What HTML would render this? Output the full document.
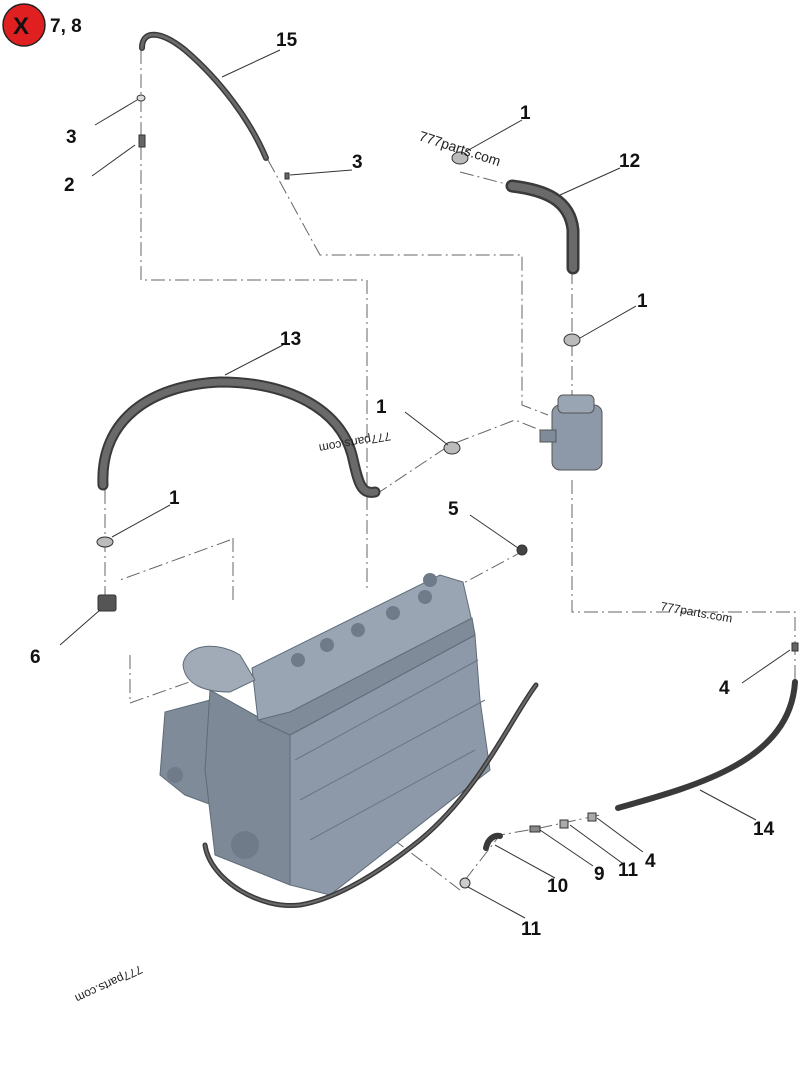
<!DOCTYPE html>
<html><head><style>
html,body{margin:0;padding:0;background:#fff;}
svg{display:block;}
text{font-family:"Liberation Sans",sans-serif;font-weight:bold;font-size:19px;fill:#111;}
.w{font-weight:normal;font-size:12px;fill:#222;}
.l{stroke:#333;stroke-width:1;fill:none;}
.d{stroke:#666;stroke-width:1;fill:none;stroke-dasharray:14 4 2 4;}
.h{fill:none;stroke:#3a3a3a;stroke-linecap:round;}
.hi{fill:none;stroke:#6a6a6a;stroke-linecap:round;}
</style></head><body>
<svg width="800" height="1067" viewBox="0 0 800 1067">
<circle cx="24" cy="25" r="21" fill="#e02020" stroke="#222" stroke-width="1.5"/>
<text x="13" y="34" style="font-size:24px">X</text>
<text x="50" y="32">7, 8</text>

<path class="d" d="M141 50 V280 H367 V590"/>
<path class="d" d="M268 160 L320 255 H522 V405 L548 415"/>
<path class="d" d="M572 270 V400"/>
<path class="d" d="M572 480 V612 H795 V680"/>
<path class="d" d="M375 495 L450 445 L515 420 L545 432"/>
<path class="d" d="M105 490 V600"/>
<path class="d" d="M230 540 L120 580 M233 538 V600 M130 655 V703 L195 680"/>
<path class="d" d="M525 550 L460 585"/>
<path class="d" d="M460 172 L510 185"/>
<path class="d" d="M335 795 L460 890 M465 880 L500 835 L540 828 L600 815"/>

<!-- engine -->
<g stroke="#5f6b78" stroke-width="1">
<polygon points="160,775 165,712 210,700 212,805 185,795" fill="#7f8b99"/>
<polygon points="210,690 290,735 475,635 480,700 490,770 330,895 290,885" fill="#8d99a8"/>
<polygon points="210,690 290,735 290,885 215,855 205,770" fill="#7d8997"/>
<polygon points="252,668 440,575 463,582 475,635 290,735 258,720" fill="#9aa5b3"/>
<polygon points="258,720 290,735 475,635 472,618 290,712" fill="#7f8b99"/>
<path d="M183 665 C185 645 215 640 240 655 L255 680 L230 692 C205 692 185 685 183 665Z" fill="#a1abb8"/>
</g>
<g fill="#6f7b89">
<circle cx="298" cy="660" r="7"/><circle cx="327" cy="645" r="7"/><circle cx="358" cy="630" r="7"/><circle cx="393" cy="613" r="7"/><circle cx="425" cy="597" r="7"/><circle cx="430" cy="580" r="7"/>
<circle cx="245" cy="845" r="14"/><circle cx="175" cy="775" r="8"/>
</g>
<g stroke="#6a7684" stroke-width="1" fill="none">
<path d="M295 760 L478 660 M300 800 L485 700 M310 840 L475 750"/>
</g>

<path class="h" stroke-width="11" d="M103 485 C100 420 150 385 220 382 C290 382 340 410 352 455 C358 480 360 495 375 492"/>
<path class="hi" stroke-width="7" d="M103 485 C100 420 150 385 220 382 C290 382 340 410 352 455 C358 480 360 495 375 492"/>
<path class="h" stroke-width="6" d="M142 48 C142 30 160 30 185 50 C220 80 250 120 266 158"/>
<path class="hi" stroke-width="3" d="M142 48 C142 30 160 30 185 50 C220 80 250 120 266 158"/>
<path class="h" stroke-width="13" d="M512 186 C545 190 570 200 573 230 V268"/>
<path class="hi" stroke-width="8" d="M512 186 C545 190 570 200 573 230 V268"/>
<path class="h" stroke-width="6" d="M795 682 C790 760 700 785 618 808"/>
<path class="h" stroke-width="6" d="M486 848 C488 838 495 835 500 836"/>
<path class="h" stroke-width="5" d="M536 685 C510 720 480 790 420 840 C370 880 330 900 300 905 C260 910 210 880 205 845"/>
<path class="hi" stroke-width="2" d="M536 685 C510 720 480 790 420 840 C370 880 330 900 300 905 C260 910 210 880 205 845"/>

<g stroke="#555" fill="#8d99a8">
<rect x="552" y="405" width="50" height="65" rx="8"/>
<rect x="558" y="395" width="36" height="18" rx="5" fill="#9aa5b3"/>
<rect x="540" y="430" width="16" height="12" fill="#7f8b99"/>
</g>
<g fill="#777" stroke="#333">
<rect x="98" y="595" width="18" height="16" rx="2" fill="#555"/>
<ellipse cx="105" cy="542" rx="8" ry="5" fill="#bbb"/>
<ellipse cx="452" cy="448" rx="8" ry="6" fill="#bbb"/>
<ellipse cx="572" cy="340" rx="8" ry="6" fill="#bbb"/>
<ellipse cx="460" cy="158" rx="8" ry="6" fill="#bbb"/>
<circle cx="522" cy="550" r="5" fill="#444"/>
<rect x="139" y="135" width="6" height="12" fill="#666"/>
<ellipse cx="141" cy="98" rx="4" ry="3" fill="#ddd"/>
<rect x="285" y="173" width="4" height="6" fill="#666"/>
<rect x="792" y="643" width="6" height="8" fill="#666"/>
<rect x="530" y="826" width="10" height="6" fill="#888"/>
<rect x="560" y="820" width="8" height="8" fill="#aaa"/>
<rect x="588" y="813" width="8" height="8" fill="#aaa"/>
<ellipse cx="465" cy="883" rx="5" ry="5" fill="#ccc"/>
</g>

<g class="l">
<path d="M222 77 L280 50"/>
<path d="M95 125 L137 100"/>
<path d="M92 176 L135 145"/>
<path d="M290 175 L352 170"/>
<path d="M465 152 L522 120"/>
<path d="M560 195 L620 168"/>
<path d="M580 338 L636 306"/>
<path d="M225 375 L283 345"/>
<path d="M405 412 L448 445"/>
<path d="M112 537 L170 505"/>
<path d="M470 515 L518 548"/>
<path d="M60 645 L100 610"/>
<path d="M742 683 L790 650"/>
<path d="M700 790 L756 820"/>
<path d="M597 818 L643 852"/>
<path d="M570 825 L622 863"/>
<path d="M540 830 L593 866"/>
<path d="M495 845 L555 878"/>
<path d="M468 887 L525 918"/>
</g>

<text x="276" y="46">15</text>
<text x="66" y="143">3</text>
<text x="64" y="191">2</text>
<text x="352" y="168">3</text>
<text x="520" y="119">1</text>
<text x="619" y="167">12</text>
<text x="637" y="307">1</text>
<text x="280" y="345">13</text>
<text x="376" y="413">1</text>
<text x="169" y="504">1</text>
<text x="448" y="515">5</text>
<text x="30" y="663">6</text>
<text x="719" y="694">4</text>
<text x="753" y="835">14</text>
<text x="645" y="867">4</text>
<text x="618" y="876">11</text>
<text x="594" y="880">9</text>
<text x="547" y="892">10</text>
<text x="521" y="935">11</text>

<text class="w" x="418" y="140" transform="rotate(18 418 140)" style="font-size:14px">777parts.com</text>
<text class="w" x="660" y="610" transform="rotate(10 660 610)">777parts.com</text>
<text class="w" x="390" y="432" transform="rotate(170 390 432)">777parts.com</text>
<text class="w" x="140" y="965" transform="rotate(155 140 965)">777parts.com</text>
</svg>
</body></html>
